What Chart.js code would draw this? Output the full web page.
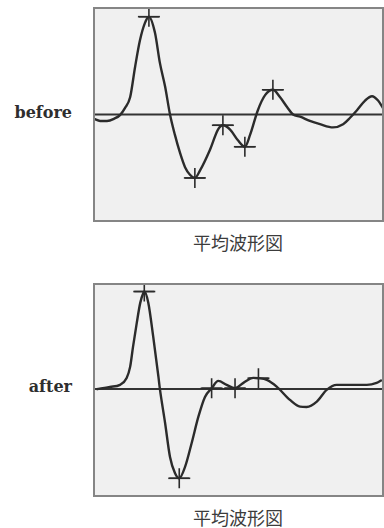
<!DOCTYPE html>
<html>
<head>
<meta charset="utf-8">
<script src="https://cdn.jsdelivr.net/npm/chart.js@4/dist/chart.umd.min.js"></script>
<style>
  html, body { margin: 0; padding: 0; background: #fff; }
  body { width: 384px; height: 528px; position: relative; overflow: hidden; }
  .panel { position: absolute; left: 93px; width: 291px; }
  #wrapBefore { top: 7px; height: 215px; }
  #wrapAfter { top: 283px; height: 214px; }
  .side { position: absolute; width: 72px; text-align: right; left: 0;
          font: bold 16px "DejaVu Serif", serif; color: #2e2e2e; line-height: 20px; }
  #lblBefore { top: 103px; }
  #lblAfter { top: 377px; }
  .cap { position: absolute; left: 186px; width: 104px; text-align: center;
         font: 18px "Noto Sans CJK JP", sans-serif; color: #3c3c3c; line-height: 22px; }
  #capBefore { top: 231px; }
  #capAfter { top: 506px; }
</style>
</head>
<body>
<div class="side" id="lblBefore">before</div>
<div class="side" id="lblAfter">after</div>
<div class="panel" id="wrapBefore"><canvas id="before"></canvas></div>
<div class="panel" id="wrapAfter"><canvas id="after"></canvas></div>
<div class="cap" id="capBefore">平均波形図</div>
<div class="cap" id="capAfter">平均波形図</div>

<script>
// Averaged waveform before treatment (time in % of window, amplitude in % of full scale)
const beforeTime = [0, 2.1, 4.5, 6.9, 9.0, 10.7, 12.5, 14.2, 15.9, 17.6, 19.0, 21.1, 22.8, 24.6, 26.3,
  28.0, 29.8, 31.5, 33.2, 34.9, 36.7, 40.1, 42.9, 44.6, 47.1, 49.8, 52.2, 54.0, 56.7, 59.2, 61.9,
  64.4, 66.8, 68.9, 71.3, 74.7, 78.2, 82.7, 86.2, 88.6, 91.0, 93.8, 96.2, 98.3, 100];
const beforeAmp = [-4, -6, -6, -4, -0.5, 6, 16, 44, 69, 85, 91, 76, 48, 26, 0,
  -19, -36, -49, -56, -59, -52, -33, -14, -10, -14, -24, -30, -19, 4, 18, 23,
  16, 7, 0, -2, -6, -9, -12, -9, -3, 4, 13, 17, 13, 6];
// Detected peaks (indices into the waveform above)
const beforePeaks = [10, 19, 23, 26, 30];

// Averaged waveform after treatment
const afterTime = [0.9, 5.5, 9.0, 11.3, 12.5, 13.5, 14.8, 16.0, 17.1, 17.4, 18.8, 20.5, 22.3, 22.8,
  24.6, 26.3, 28.0, 29.5, 31.5, 33.8, 36.1, 38.4, 40.7, 43.0, 45.9, 48.8, 51.7, 55.1, 56.9, 59.8,
  63.2, 67.8, 71.3, 73.6, 77.1, 80.5, 84.0, 88.6, 94.4, 97.8, 99.6];
const afterAmp = [-0.3, 1.9, 3.7, 10.2, 20.4, 38.9, 61.1, 79.6, 88.9, 90.1, 79.6, 48.1, 11.1, 0,
  -31.5, -63, -77.8, -82.7, -72.2, -50, -25.9, -7.4, 0.6, 7.4, 3.7, 0.6, 5.6, 10.2, 9.9, 8.3,
  2.1, -10.2, -16.4, -16.7, -11.8, -0.9, 3.7, 3.7, 3.7, 5.6, 8.3];
const afterPeaks = [9, 17, 22, 25, 28];

// Zero reference line across the window
const zeroTime = [0, 100];
const zeroAmp = [0, 0];

const frameBox = {
  id: 'frameBox',
  beforeDraw(chart) {
    const c = chart.ctx;
    c.save();
    c.fillStyle = '#f0f0f0';
    c.fillRect(0, 0, chart.width, chart.height);
    c.restore();
  },
  afterDraw(chart) {
    const c = chart.ctx;
    c.save();
    c.strokeStyle = '#858585';
    c.lineWidth = 2;
    c.strokeRect(1, 1, chart.width - 2, chart.height - 2);
    c.restore();
  }
};

function pts(xs, ys) { return xs.map((x, i) => ({ x, y: ys[i] })); }

function drawWave(id, xs, ys, peaks, yMin, yMax) {
  const peakPts = peaks.map(i => ({ x: xs[i], y: ys[i] }));
  new Chart(document.getElementById(id), {
    type: 'line',
    data: {
      datasets: [
        { data: pts(xs, ys), borderColor: '#2b2b2b', borderWidth: 2.4, pointRadius: 0,
          cubicInterpolationMode: 'monotone', order: 1 },
        { data: peakPts, showLine: false, pointStyle: 'cross', pointRadius: 10,
          borderColor: '#2b2b2b', pointBorderWidth: 1.6, clip: false, order: 0 },
        { data: peakPts, showLine: false, pointStyle: 'line', pointRadius: 11,
          borderColor: '#2b2b2b', pointBorderWidth: 1.6, clip: false, order: 0 },
        { data: pts(zeroTime, zeroAmp), borderColor: '#333', borderWidth: 2, pointRadius: 0, order: 2 }
      ]
    },
    options: {
      responsive: true,
      maintainAspectRatio: false,
      animation: false,
      layout: { autoPadding: false, padding: { left: 1, right: 1, top: 0, bottom: 0 } },
      plugins: { legend: { display: false }, tooltip: { enabled: false } },
      scales: {
        x: { type: 'linear', min: 0, max: 100, display: false },
        y: { min: yMin, max: yMax, display: false }
      }
    },
    plugins: [frameBox]
  });
}

drawWave('before', beforeTime, beforeAmp, beforePeaks, -100, 100);
drawWave('after', afterTime, afterAmp, afterPeaks, -100, 98);
</script>
</body>
</html>
